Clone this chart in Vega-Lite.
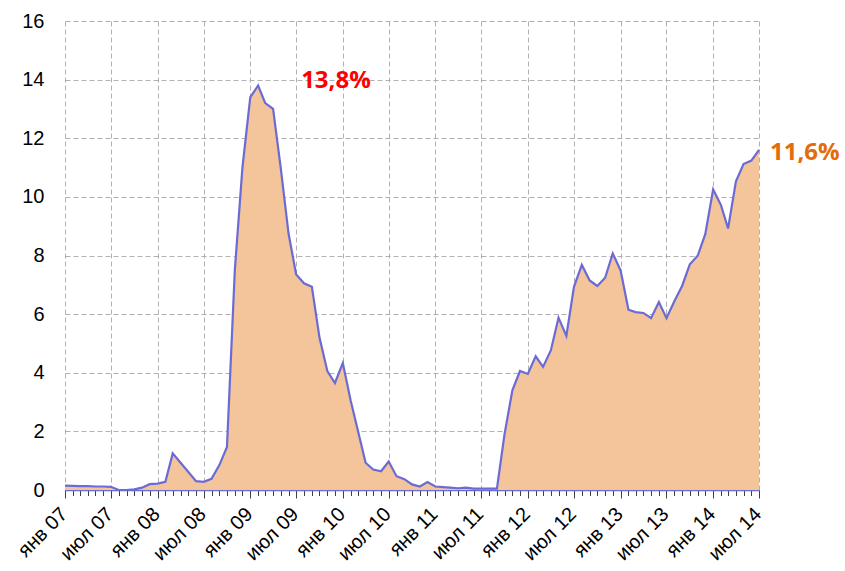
{
  "$schema": "https://vega.github.io/schema/vega-lite/v6.json",
  "autosize": "none",
  "width": 694,
  "height": 469,
  "padding": {"left": 65, "top": 21, "right": 86, "bottom": 81},
  "background": "white",
  "config": {
    "view": {"stroke": null},
    "font": "Liberation Sans"
  },
  "datasets": {
    "series": [
      {"date": "2007-01-01", "value": 0.15}, {"date": "2007-02-01", "value": 0.14}, {"date": "2007-03-01", "value": 0.13},
      {"date": "2007-04-01", "value": 0.13}, {"date": "2007-05-01", "value": 0.12}, {"date": "2007-06-01", "value": 0.12},
      {"date": "2007-07-01", "value": 0.11}, {"date": "2007-08-01", "value": 0.0}, {"date": "2007-09-01", "value": 0.0},
      {"date": "2007-10-01", "value": 0.02}, {"date": "2007-11-01", "value": 0.08}, {"date": "2007-12-01", "value": 0.2},
      {"date": "2008-01-01", "value": 0.22}, {"date": "2008-02-01", "value": 0.28}, {"date": "2008-03-01", "value": 1.25},
      {"date": "2008-04-01", "value": 0.93}, {"date": "2008-05-01", "value": 0.62}, {"date": "2008-06-01", "value": 0.3},
      {"date": "2008-07-01", "value": 0.28}, {"date": "2008-08-01", "value": 0.38}, {"date": "2008-09-01", "value": 0.85},
      {"date": "2008-10-01", "value": 1.47}, {"date": "2008-11-01", "value": 7.5}, {"date": "2008-12-01", "value": 11.0},
      {"date": "2009-01-01", "value": 13.4}, {"date": "2009-02-01", "value": 13.8}, {"date": "2009-03-01", "value": 13.2},
      {"date": "2009-04-01", "value": 13.0}, {"date": "2009-05-01", "value": 11.0}, {"date": "2009-06-01", "value": 8.75},
      {"date": "2009-07-01", "value": 7.35}, {"date": "2009-08-01", "value": 7.05}, {"date": "2009-09-01", "value": 6.93},
      {"date": "2009-10-01", "value": 5.2}, {"date": "2009-11-01", "value": 4.06}, {"date": "2009-12-01", "value": 3.65},
      {"date": "2010-01-01", "value": 4.33}, {"date": "2010-02-01", "value": 3.05}, {"date": "2010-03-01", "value": 2.05},
      {"date": "2010-04-01", "value": 0.93}, {"date": "2010-05-01", "value": 0.7}, {"date": "2010-06-01", "value": 0.64},
      {"date": "2010-07-01", "value": 0.97}, {"date": "2010-08-01", "value": 0.47}, {"date": "2010-09-01", "value": 0.37},
      {"date": "2010-10-01", "value": 0.19}, {"date": "2010-11-01", "value": 0.12}, {"date": "2010-12-01", "value": 0.27},
      {"date": "2011-01-01", "value": 0.12}, {"date": "2011-02-01", "value": 0.1}, {"date": "2011-03-01", "value": 0.08},
      {"date": "2011-04-01", "value": 0.06}, {"date": "2011-05-01", "value": 0.08}, {"date": "2011-06-01", "value": 0.05},
      {"date": "2011-07-01", "value": 0.05}, {"date": "2011-08-01", "value": 0.05}, {"date": "2011-09-01", "value": 0.05},
      {"date": "2011-10-01", "value": 1.9}, {"date": "2011-11-01", "value": 3.4}, {"date": "2011-12-01", "value": 4.06},
      {"date": "2012-01-01", "value": 3.96}, {"date": "2012-02-01", "value": 4.56}, {"date": "2012-03-01", "value": 4.2},
      {"date": "2012-04-01", "value": 4.77}, {"date": "2012-05-01", "value": 5.88}, {"date": "2012-06-01", "value": 5.26},
      {"date": "2012-07-01", "value": 6.93}, {"date": "2012-08-01", "value": 7.68}, {"date": "2012-09-01", "value": 7.15},
      {"date": "2012-10-01", "value": 6.96}, {"date": "2012-11-01", "value": 7.24}, {"date": "2012-12-01", "value": 8.07},
      {"date": "2013-01-01", "value": 7.49}, {"date": "2013-02-01", "value": 6.15}, {"date": "2013-03-01", "value": 6.07},
      {"date": "2013-04-01", "value": 6.04}, {"date": "2013-05-01", "value": 5.86}, {"date": "2013-06-01", "value": 6.41},
      {"date": "2013-07-01", "value": 5.86}, {"date": "2013-08-01", "value": 6.44}, {"date": "2013-09-01", "value": 6.97},
      {"date": "2013-10-01", "value": 7.7}, {"date": "2013-11-01", "value": 7.99}, {"date": "2013-12-01", "value": 8.73},
      {"date": "2014-01-01", "value": 10.25}, {"date": "2014-02-01", "value": 9.72}, {"date": "2014-03-01", "value": 8.92},
      {"date": "2014-04-01", "value": 10.53}, {"date": "2014-05-01", "value": 11.12}, {"date": "2014-06-01", "value": 11.24},
      {"date": "2014-07-01", "value": 11.6}
    ]
  },
  "layer": [
    {
      "data": {"name": "series"},
      "mark": {"type": "area", "color": "#F4C49B", "opacity": 1, "line": {"color": "#6B6BD6", "strokeWidth": 2.2}},
      "encoding": {
        "x": {
          "field": "date", "type": "temporal",
          "scale": {"type": "utc", "domain": [{"year": 2007, "month": 1, "date": 1, "utc": true}, {"year": 2014, "month": 7, "date": 1, "utc": true}], "nice": false},
          "axis": {
            "title": null,
            "tickCount": {"interval": "month", "step": 1},
            "labelExpr": "utcmonth(datum.value) == 0 ? 'янв ' + utcFormat(datum.value, '%y') : (utcmonth(datum.value) == 6 ? 'июл ' + utcFormat(datum.value, '%y') : '')",
            "labelOverlap": false,
            "labelAngle": -45,
            "labelAlign": "right",
            "labelBaseline": "alphabetic",
            "labelFontSize": 20,
            "labelColor": "#000000",
            "labelPadding": 17,
            "labelOffset": 3,
            "labelFont": "Liberation Sans",
            "domainColor": "#6B6BD6",
            "domainWidth": 1.5,
            "tickColor": "#404040",
            "tickWidth": 1,
            "tickSize": {"condition": {"test": "utcmonth(datum.value) % 6 == 0", "value": 8}, "value": 5.5},
            "grid": true,
            "gridColor": "#B0B0B0",
            "gridDash": [5, 3],
            "gridWidth": 1,
            "gridOpacity": {"condition": {"test": "utcmonth(datum.value) % 6 == 0", "value": 1}, "value": 0}
          }
        },
        "y": {
          "field": "value", "type": "quantitative",
          "scale": {"domain": [0, 16], "nice": false},
          "axis": {
            "title": null,
            "values": [0, 2, 4, 6, 8, 10, 12, 14, 16],
            "domain": false,
            "ticks": false,
            "labelPadding": 21,
            "labelFontSize": 20,
            "labelColor": "#000000",
            "labelFont": "Liberation Sans",
            "grid": true,
            "gridColor": "#B0B0B0",
            "gridDash": [5, 3],
            "gridWidth": 1
          }
        }
      }
    },
    {
      "data": {"values": [{"date": "2009-02-01", "value": 13.8, "label": "13,8%"}]},
      "mark": {"type": "text", "align": "left", "baseline": "middle", "dx": 43, "dy": -4, "font": "Open Sans", "fontWeight": "bold", "fontSize": 24, "color": "#FF0000"},
      "encoding": {
        "x": {"field": "date", "type": "temporal"},
        "y": {"field": "value", "type": "quantitative"},
        "text": {"field": "label"}
      }
    },
    {
      "data": {"values": [{"date": "2014-07-01", "value": 11.6, "label": "11,6%"}]},
      "mark": {"type": "text", "align": "left", "baseline": "middle", "dx": 11, "dy": 3, "font": "Open Sans", "fontWeight": "bold", "fontSize": 24, "color": "#E46C0A"},
      "encoding": {
        "x": {"field": "date", "type": "temporal"},
        "y": {"field": "value", "type": "quantitative"},
        "text": {"field": "label"}
      }
    }
  ]
}
